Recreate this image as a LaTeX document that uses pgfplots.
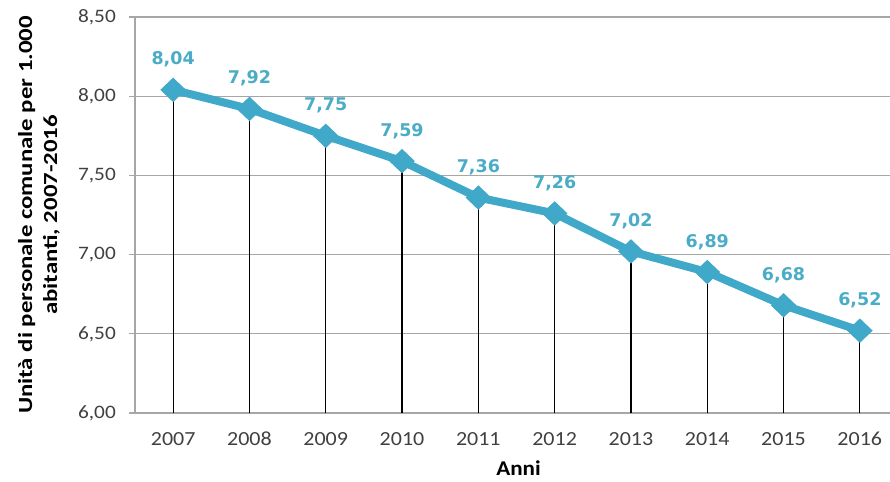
\documentclass[border=0pt]{standalone}
\usepackage{fontspec}
\setmainfont{Carlito}
\newfontfamily\labfont{DejaVu Sans}
\usepackage{pgfplots}
\pgfplotsset{compat=1.18}
\definecolor{serie}{HTML}{40A8C8}
\definecolor{lab}{HTML}{4BACC6}
\definecolor{gridc}{HTML}{A6A6A6}
\definecolor{tickc}{HTML}{404040}
\begin{document}
\begin{tikzpicture}
\begin{axis}[
  name=a,
  scale only axis,
  width=755bp, height=396bp,
  xmin=2006.5, xmax=2016.395,
  ymin=6, ymax=8.5,
  ytick={6,6.5,7,7.5,8,8.5},
  xtick={2007,...,2016},
  clip=false,
  axis line style={gridc, line width=1.2bp},
  axis x line*=bottom,
  axis y line*=left,
  ymajorgrids,
  grid style={gridc, line width=1.2bp},
  xtick style={draw=none},
  ytick style={gridc, line width=1.2bp},
  tick align=outside,
  major tick length=6bp,
  /pgf/number format/assume math mode=true,
  yticklabel style={font=\fontsize{19bp}{23bp}\selectfont, text=tickc, inner sep=0pt, xshift=-13bp, xscale=1.12,
    /pgf/number format/.cd, fixed, fixed zerofill, precision=2, use comma},
  xticklabel style={font=\fontsize{20bp}{24bp}\selectfont, text=tickc, inner sep=0pt, yshift=-13bp, xscale=1.1,
    /pgf/number format/.cd, 1000 sep={}},
  xlabel={Anni},
  xlabel style={font=\bfseries\fontsize{21bp}{25bp}\selectfont, at={(axis description cs:0.5,0)}, anchor=center, yshift=-55bp, xshift=6bp, xscale=1.1},
  ylabel={Unità di personale comunale per 1.000\\abitanti, 2007-2016},
  ylabel style={font=\bfseries\fontsize{20bp}{25bp}\selectfont, align=center, at={(axis description cs:0,0.5)}, anchor=center, yshift=96bp, xscale=1.24},
]
\addplot[serie, line width=8bp, mark=diamond*, mark size=11.5bp,
  mark options={solid, xscale=1.4, line width=1bp, fill=serie, draw=serie},
  nodes near coords={\pgfmathprintnumber[fixed,fixed zerofill,precision=2,use comma]{\pgfplotspointmeta}},
  every node near coord/.style={font=\labfont\bfseries\fontsize{17.5bp}{20bp}\selectfont, text=lab, anchor=south, inner sep=0pt, yshift=22bp}
] coordinates {
(2007,8.04) (2008,7.92) (2009,7.75) (2010,7.59) (2011,7.36) (2012,7.26) (2013,7.02) (2014,6.89) (2015,6.68) (2016,6.52)};
\addplot[ycomb, black, line width=1.2bp, mark=none] coordinates {
(2007,8.04) (2008,7.92) (2009,7.75) (2010,7.59) (2011,7.36) (2012,7.26) (2013,7.02) (2014,6.89) (2015,6.68) (2016,6.52)};
\end{axis}
\pgfresetboundingbox
\path[use as bounding box] ([xshift=-135bp,yshift=-69bp]a.south west) rectangle ([yshift=17bp]a.north east);
\end{tikzpicture}
\end{document}
